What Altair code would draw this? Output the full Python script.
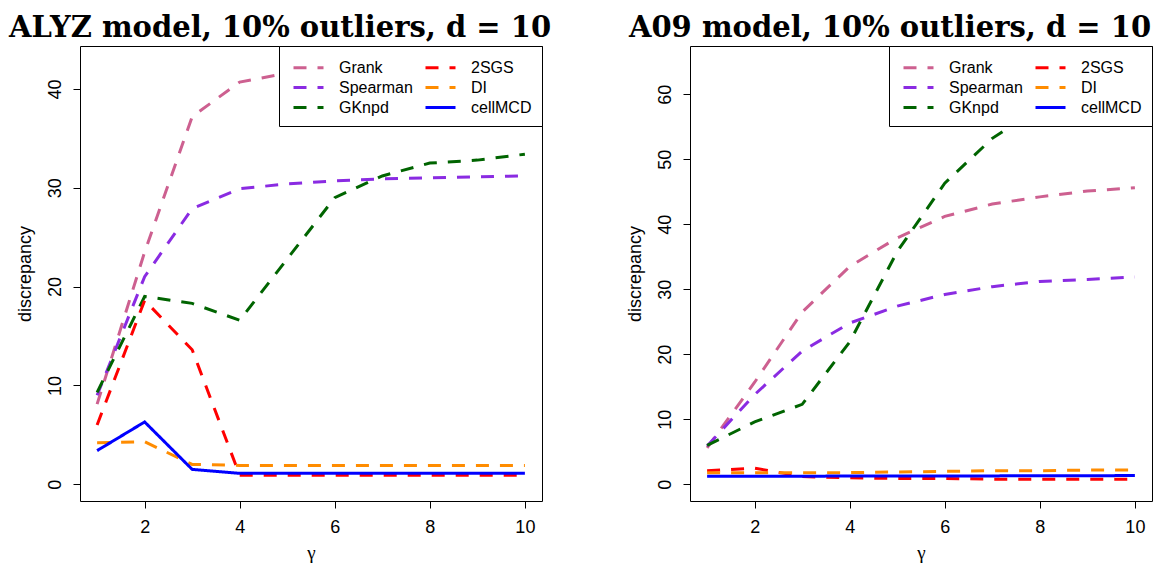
import altair as alt
import pandas as pd

gamma = [1, 2, 3, 4, 5, 6, 7, 8, 9, 10]
draw_order = ["Grank", "Spearman", "GKnpd", "2SGS", "DI", "cellMCD"]
legend_colors = ["#CD6090", "#8A2BE2", "#006400", "#FF0000", "#FF8C00", "#0000FF"]
legend_dashes = [[13, 11], [13, 11], [13, 11], [13, 11], [13, 11], [1, 0]]

# ALYZ model
alyz_grank = [8.1, 23.5, 37.2, 40.7, 41.6, 42.0, 42.2, 42.4, 42.5, 42.6]
alyz_spearman = [9.0, 21.0, 27.9, 29.9, 30.4, 30.7, 30.9, 31.0, 31.1, 31.2]
alyz_gknpd = [9.3, 19.0, 18.3, 16.6, 22.8, 29.0, 31.2, 32.5, 32.8, 33.4]
alyz_2sgs = [6.0, 18.6, 13.6, 0.9, 0.9, 0.9, 0.9, 0.9, 0.9, 0.9]
alyz_di = [4.2, 4.3, 2.0, 1.9, 1.9, 1.9, 1.9, 1.9, 1.9, 1.9]
alyz_cellmcd = [3.4, 6.3, 1.5, 1.1, 1.1, 1.1, 1.1, 1.1, 1.1, 1.1]

# A09 model
a09_grank = [5.6, 15.7, 26.5, 33.5, 37.9, 41.2, 43.1, 44.2, 45.1, 45.6]
a09_spearman = [5.9, 13.8, 20.5, 24.8, 27.4, 29.2, 30.4, 31.2, 31.5, 31.9]
a09_gknpd = [6.0, 9.6, 12.3, 21.9, 35.8, 46.3, 53.2, 58.0, 61.8, 64.8]
a09_2sgs = [2.1, 2.5, 1.2, 1.0, 0.9, 0.9, 0.8, 0.8, 0.8, 0.8]
a09_di = [1.8, 1.8, 1.8, 1.8, 1.9, 2.0, 2.1, 2.1, 2.2, 2.2]
a09_cellmcd = [1.25, 1.25, 1.25, 1.28, 1.28, 1.3, 1.3, 1.32, 1.33, 1.35]

x_ticks = [2, 4, 6, 8, 10]
alyz_yticks = [0, 10, 20, 30, 40]
a09_yticks = [0, 10, 20, 30, 40, 50, 60]


def long_df(values):
    rows = []
    for name, vals in zip(draw_order, values):
        for g, v in zip(gamma, vals):
            rows.append({"gamma": g, "method": name, "value": v})
    return pd.DataFrame(rows)


def panel(df, ydomain, yticks, title):
    leg = alt.Legend(
        title=None, orient="top-right", offset=0, columns=2,
        strokeColor="black", fillColor="white", padding=10,
        columnPadding=6, rowPadding=0, labelFontSize=16,
        labelFont="Liberation Sans", labelColor="black",
        symbolType="M-1.5,0H1.5", symbolSize=400, symbolStrokeWidth=3,
        symbolOffset=8, labelOffset=19, cornerRadius=0, zindex=5,
        labelExpr="indexof(['2SGS','DI','cellMCD'], datum.label) >= 0 ? datum.label + '\u00a0\u00a0\u00a0\u00a0\u00a0' : datum.label",
    )
    layers = []
    for name in draw_order:
        layers.append(
            alt.Chart(df).transform_filter(alt.datum.method == name)
            .mark_line(strokeWidth=3, strokeCap="butt", clip=True)
            .encode(
                x=alt.X("gamma:Q", scale=alt.Scale(domain=[0.64, 10.36], nice=False, zero=False),
                        axis=alt.Axis(values=x_ticks, title="γ", titleFont="Liberation Serif",
                                      titleFontSize=19, titleFontWeight="normal", grid=False,
                                      labelPadding=10, titlePadding=7)),
                y=alt.Y("value:Q", scale=alt.Scale(domain=ydomain, nice=False, zero=False),
                        axis=alt.Axis(values=yticks, title="discrepancy", labelAngle=-90,
                                      labelAlign="center", labelBaseline="bottom", grid=False,
                                      labelPadding=9, titlePadding=12, titleFontSize=18,
                                      titleFontWeight="normal")),
                color=alt.Color("method:N", scale=alt.Scale(domain=draw_order, range=legend_colors),
                                legend=leg),
                strokeDash=alt.StrokeDash("method:N",
                                          scale=alt.Scale(domain=draw_order, range=legend_dashes),
                                          legend=leg),
            )
        )
    return alt.layer(*layers).properties(
        width=462, height=455,
        title=alt.TitleParams(title, font="DejaVu Serif", fontSize=29, fontWeight="bold",
                              anchor="middle", frame="group", dx=-31, offset=3, color="black"),
    )


left = panel(long_df([alyz_grank, alyz_spearman, alyz_gknpd, alyz_2sgs, alyz_di, alyz_cellmcd]),
             [-1.7, 44.35], alyz_yticks, "ALYZ model, 10% outliers, d = 10")
right = panel(long_df([a09_grank, a09_spearman, a09_gknpd, a09_2sgs, a09_di, a09_cellmcd]),
              [-2.56, 67.4], a09_yticks, "A09 model, 10% outliers, d = 10")

chart = (
    alt.hconcat(left, right, spacing=73)
    .resolve_scale(x="independent", y="independent", color="independent", strokeDash="independent")
    .resolve_legend(color="independent", strokeDash="independent")
    .properties(padding={"top": 5, "left": 0, "right": 0, "bottom": 0})
    .configure(background="white")
    .configure_view(stroke="black", strokeWidth=1)
    .configure_axis(grid=False, domain=False, tickColor="black", tickSize=7, tickWidth=1,
                    labelColor="black", titleColor="black", labelFont="Liberation Sans",
                    titleFont="Liberation Sans", labelFontSize=18)
)

chart.save("out.html", embed_options={"renderer": "svg", "actions": False})
